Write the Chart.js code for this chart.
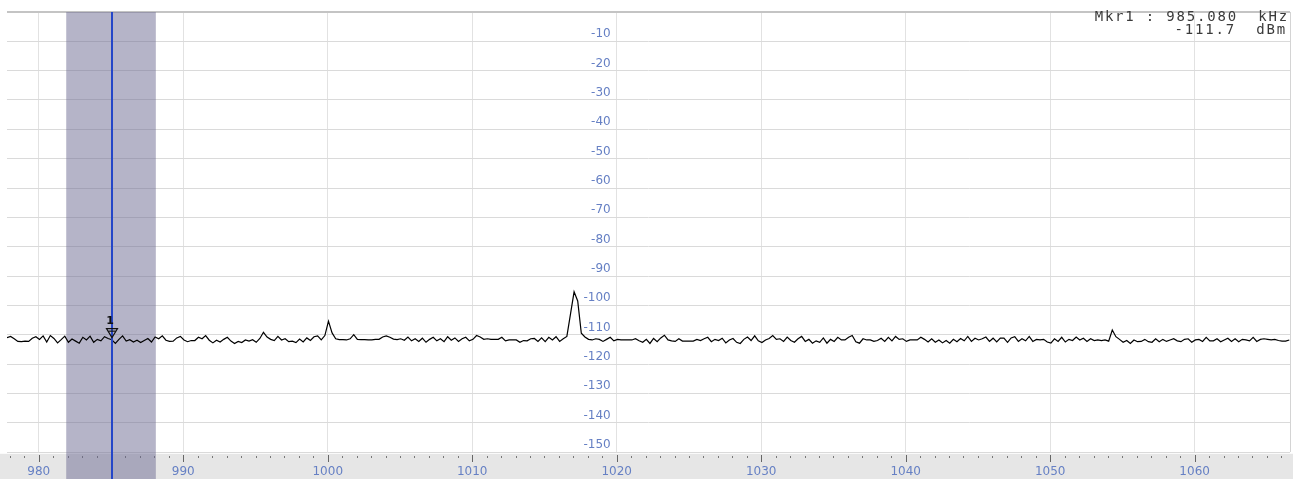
<!DOCTYPE html>
<html>
<head>
<meta charset="utf-8">
<script src="https://cdn.jsdelivr.net/npm/chart.js@4.4.1/dist/chart.umd.min.js"></script>
<style>
  html, body { margin: 0; padding: 0; background: #fff; }
  canvas { display: block; }
</style>
</head>
<body>
<canvas id="spectrum" width="1293" height="479"></canvas>
<script>
// sweep: first bin and bin width (kHz)
const FREQ_START = 977.8
const FREQ_STEP = 0.25

// trace levels in dBm, one per bin
const levels = [
  -111.0,-110.6,-111.4,-112.3,-112.4,-112.2,-112.3,-111.2,-110.7,-111.6,-110.4,-112.5,-110.3,-111.3,-112.8,-111.7,-110.5,-112.6,-111.5,-112.2,
  -112.9,-110.9,-111.8,-110.5,-112.6,-111.6,-112.1,-110.7,-111.3,-111.7,-113.0,-111.6,-110.4,-112.2,-111.7,-112.5,-111.9,-112.7,-112.0,-111.3,
  -112.5,-110.8,-111.4,-110.4,-111.9,-112.3,-112.2,-111.1,-110.6,-111.8,-112.4,-112.0,-112.0,-110.9,-111.4,-110.3,-111.9,-112.8,-111.9,-112.5,
  -111.6,-110.9,-112.2,-113.0,-112.3,-112.7,-111.8,-112.2,-111.7,-112.6,-111.3,-109.2,-110.8,-111.6,-112.0,-110.6,-111.8,-111.4,-112.4,-112.2,
  -112.7,-111.5,-112.5,-111.1,-112.0,-110.7,-110.4,-111.8,-110.3,-105.4,-109.4,-111.4,-111.7,-111.7,-111.8,-111.4,-110.0,-111.6,-111.7,-111.7,
  -111.8,-111.8,-111.6,-111.6,-110.8,-110.4,-110.9,-111.5,-111.7,-111.4,-111.9,-110.8,-112.1,-111.4,-112.3,-111.2,-112.6,-111.6,-110.9,-112.1,
  -111.4,-112.4,-110.7,-111.9,-111.1,-112.3,-111.4,-110.9,-112.1,-111.6,-110.3,-110.8,-111.6,-111.4,-111.6,-111.6,-111.6,-110.9,-112.1,-111.8,
  -111.8,-111.8,-112.6,-112.0,-112.1,-111.4,-111.3,-112.3,-111.1,-112.4,-110.9,-111.8,-110.7,-112.3,-111.4,-110.6,-103.0,-95.4,-98.5,-109.5,
  -110.8,-111.6,-111.8,-111.4,-111.6,-112.3,-111.6,-110.9,-112.1,-111.6,-111.8,-111.8,-111.8,-111.8,-111.4,-112.1,-112.6,-111.6,-113.0,-111.3,
  -112.4,-111.1,-110.2,-111.8,-112.1,-112.3,-111.4,-112.2,-112.2,-112.2,-112.2,-111.6,-112.0,-111.4,-110.9,-112.4,-111.6,-112.0,-111.2,-112.8,
  -111.8,-111.3,-112.6,-113.0,-111.6,-110.8,-112.0,-110.4,-112.1,-112.7,-111.8,-111.3,-110.3,-111.6,-111.4,-112.3,-110.8,-112.0,-112.6,-111.4,
  -110.6,-112.3,-111.6,-112.9,-112.1,-112.6,-111.1,-112.9,-111.6,-112.3,-110.9,-111.8,-111.8,-110.9,-110.3,-112.4,-112.9,-111.4,-111.8,-111.8,
  -112.3,-112.0,-111.2,-112.3,-110.9,-112.1,-110.6,-111.6,-111.4,-112.3,-111.8,-111.8,-111.8,-110.9,-111.6,-112.5,-111.4,-112.6,-111.8,-112.8,
  -112.0,-112.9,-111.6,-112.4,-111.3,-112.1,-110.6,-112.3,-111.2,-111.8,-111.4,-110.8,-112.3,-111.2,-112.5,-111.2,-111.2,-112.6,-111.1,-110.7,
  -112.3,-111.4,-112.1,-110.6,-112.3,-111.6,-111.8,-111.6,-112.5,-112.9,-111.4,-112.3,-110.9,-112.5,-111.6,-112.0,-110.8,-111.8,-111.2,-112.3,
  -111.4,-112.0,-111.8,-112.0,-111.8,-112.2,-108.4,-110.7,-111.6,-112.6,-112.0,-113.0,-111.8,-112.4,-112.3,-111.6,-112.4,-112.6,-111.4,-112.4,
  -111.6,-112.3,-111.8,-111.4,-112.1,-112.4,-111.6,-111.4,-112.6,-111.8,-111.6,-112.3,-110.9,-112.1,-112.1,-111.4,-112.4,-111.8,-111.2,-112.3,
  -111.4,-112.4,-111.6,-111.8,-112.1,-110.9,-112.3,-111.6,-111.4,-111.6,-111.8,-111.6,-112.0,-112.2,-112.2,-111.8
]

// axis labels
const xTickLabels = [980, 990, 1000, 1010, 1020, 1030, 1040, 1050, 1060]
const yTickLabels = [-10, -20, -30, -40, -50, -60, -70, -80, -90, -100, -110, -120, -130, -140, -150]

// marker 1 and the shaded band around it
const markerFreq = 985.08
const markerLevel = -111.7
const bandFrom = 981.9
const bandTo = 988.1
const markerText = ['Mkr1 : 985.080  kHz', '-111.7  dBm']

const freqs = levels.map((_, i) => +(FREQ_START + i * FREQ_STEP).toFixed(2))

const LABEL_BLUE = '#6680c4'
const FONT = '"DejaVu Sans", Verdana, sans-serif'

const analyzerPlugin = {
    id: 'analyzer',
    beforeDraw(chart) {
        const { ctx, chartArea } = chart
        ctx.save()
        ctx.fillStyle = '#ffffff'
        ctx.fillRect(0, 0, chart.width, chart.height)
        // frequency band under the plot
        ctx.fillStyle = '#e6e6e6'
        ctx.fillRect(0, chartArea.bottom + 1, chart.width, chart.height - chartArea.bottom)
        ctx.fillStyle = '#fafafa'
        ctx.fillRect(0, chartArea.bottom + 1, chart.width, 1)
        ctx.restore()
    },
    beforeDatasetsDraw(chart) {
        const { ctx, chartArea } = chart
        const x = chart.scales.x
        ctx.save()
        // minor / major ticks in the band
        const first = Math.ceil(x.min)
        for (let f = first; f <= x.max; f++) {
            const px = Math.round(x.getPixelForValue(f)) + 0.5
            if (f % 10 === 0) {
                ctx.strokeStyle = '#666'
                ctx.lineWidth = 1
                ctx.beginPath()
                ctx.moveTo(px, chartArea.bottom + 3)
                ctx.lineTo(px, chartArea.bottom + 10)
                ctx.stroke()
            } else {
                ctx.fillStyle = '#777'
                ctx.fillRect(px - 0.5, chartArea.bottom + 4, 1, 2)
            }
        }
        // shaded span around the marker
        const x0 = x.getPixelForValue(bandFrom)
        const x1 = x.getPixelForValue(bandTo)
        ctx.fillStyle = 'rgba(108, 106, 145, 0.5)'
        ctx.fillRect(x0, chartArea.top, x1 - x0, chart.height - chartArea.top)
        ctx.restore()
    },
    afterDatasetsDraw(chart) {
        const { ctx, chartArea } = chart
        const x = chart.scales.x
        const y = chart.scales.y
        ctx.save()

        // right border
        ctx.strokeStyle = '#d4d4d4'
        ctx.lineWidth = 1
        ctx.beginPath()
        ctx.moveTo(chartArea.right + 0.5, chartArea.top)
        ctx.lineTo(chartArea.right + 0.5, chartArea.bottom)
        ctx.stroke()

        // marker line
        const mx = Math.round(x.getPixelForValue(markerFreq))
        ctx.strokeStyle = '#2446c8'
        ctx.lineWidth = 2
        ctx.beginPath()
        ctx.moveTo(mx, chartArea.top)
        ctx.lineTo(mx, chart.height)
        ctx.stroke()

        // marker triangle and number
        const my = y.getPixelForValue(markerLevel) - 2
        ctx.strokeStyle = '#111'
        ctx.lineWidth = 1.2
        ctx.beginPath()
        ctx.moveTo(mx, my)
        ctx.lineTo(mx - 5.5, my - 9)
        ctx.lineTo(mx + 5.5, my - 9)
        ctx.closePath()
        ctx.stroke()
        ctx.beginPath()
        ctx.moveTo(mx - 3.5, my - 6.5)
        ctx.lineTo(mx + 3.5, my - 6.5)
        ctx.stroke()
        ctx.fillStyle = '#111'
        ctx.font = 'bold 11px ' + FONT
        ctx.textAlign = 'center'
        ctx.textBaseline = 'alphabetic'
        ctx.fillText('1', mx - 2, my - 14)

        // level labels in the middle of the plot, just above each grid line
        const yLabelX = x.getPixelForValue(1020) - 6
        ctx.fillStyle = LABEL_BLUE
        ctx.font = '12px ' + FONT
        ctx.textAlign = 'right'
        yTickLabels.forEach(v => {
            ctx.fillText(String(v), yLabelX, y.getPixelForValue(v) - 4)
        })

        // frequency labels in the band
        ctx.textAlign = 'center'
        ctx.textBaseline = 'middle'
        xTickLabels.forEach(v => {
            ctx.fillText(String(v), x.getPixelForValue(v), chartArea.bottom + 20)
        })

        // marker readout (monospaced)
        ctx.fillStyle = '#3a3a3a'
        ctx.font = '14px "DejaVu Sans Mono", monospace'
        ctx.letterSpacing = '1.8px'
        ctx.textAlign = 'right'
        ctx.textBaseline = 'middle'
        ctx.fillText(markerText[0], chart.width - 4, 17)
        ctx.fillText(markerText[1], chart.width - 6, 30)
        ctx.letterSpacing = '0px'

        ctx.restore()
    }
}

const ctx = document.getElementById('spectrum').getContext('2d')
new Chart(ctx, {
    type: 'line',
    data: {
        datasets: [{
            data: levels.map((v, i) => ({ x: freqs[i], y: v })),
            borderColor: '#000000',
            borderWidth: 1.2,
            pointRadius: 0,
            tension: 0,
            fill: false
        }]
    },
    options: {
        responsive: false,
        animation: false,
        events: [],
        layout: { padding: { left: 7, right: 3, top: 12, bottom: 27 } },
        plugins: {
            legend: { display: false },
            tooltip: { enabled: false }
        },
        scales: {
            x: {
                type: 'linear',
                min: 977.8,
                max: 1066.6,
                border: { display: false },
                grid: { color: '#e2e2e2', drawTicks: false },
                ticks: { display: false, stepSize: 10, includeBounds: false }
            },
            y: {
                min: -150,
                max: 0,
                border: { display: false },
                grid: {
                    drawTicks: false,
                    color: c => c.tick && c.tick.value === 0 ? '#c4c4c4' : '#dadada',
                    lineWidth: c => c.tick && c.tick.value === 0 ? 2 : 1
                },
                ticks: { display: false, stepSize: 10 }
            }
        }
    },
    plugins: [analyzerPlugin]
})
</script>
</body>
</html>
